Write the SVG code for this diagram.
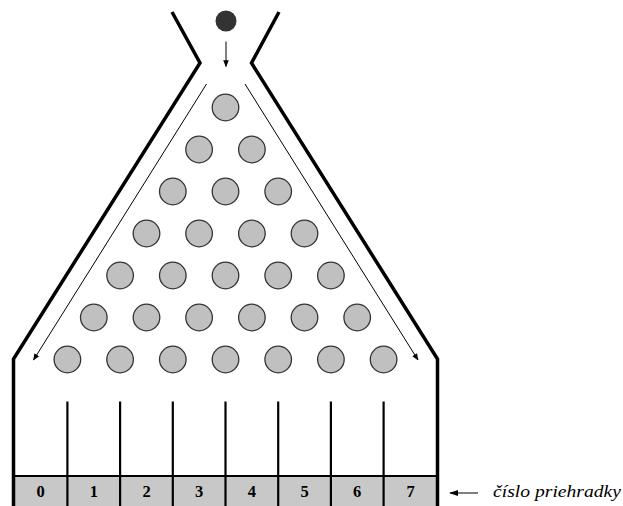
<svg xmlns="http://www.w3.org/2000/svg" width="623" height="506" viewBox="0 0 623 506">
<defs>
<marker id="ah" viewBox="0 0 10 10" refX="9" refY="5" markerWidth="7" markerHeight="7" orient="auto" markerUnits="userSpaceOnUse">
<path d="M0,1 L10,5 L0,9 Z" fill="#000"/>
</marker>
<marker id="ah2" viewBox="0 0 10 10" refX="9" refY="5" markerWidth="9" markerHeight="9" orient="auto" markerUnits="userSpaceOnUse">
<path d="M0,1.5 L10,5 L0,8.5 Z" fill="#000"/>
</marker>
<style>
.peg{fill:#c0c0c0;stroke:#333;stroke-width:1.3}
.wall{fill:none;stroke:#000;stroke-width:3.5;stroke-linejoin:miter}
.div{stroke:#000;stroke-width:2.2}
.thin{stroke:#000;stroke-width:1;fill:none}
.num{font-weight:bold;font-size:16.5px;text-anchor:middle}
.lab{font-style:italic;font-size:17px}
</style>
</defs>
<rect width="623" height="506" fill="#fff"/>
<g id="bins-fill">
<rect x="13.5" y="476" width="424" height="30" fill="#c8c8c8"/>
</g>
<g id="funnel">
<path class="wall" d="M172,12 L200,63 L13.5,359 L13.5,506"/>
<path class="wall" d="M279,12 L251.5,63 L437.5,359 L437.5,506"/>
</g>
<g id="ball">
<circle cx="226" cy="21" r="10.5" fill="#333"/>
</g>
<g id="pegs">
<circle class="peg" cx="225.5" cy="107.5" r="13.3"/>
<circle class="peg" cx="199.1" cy="149.5" r="13.3"/>
<circle class="peg" cx="251.9" cy="149.5" r="13.3"/>
<circle class="peg" cx="172.8" cy="191.5" r="13.3"/>
<circle class="peg" cx="225.5" cy="191.5" r="13.3"/>
<circle class="peg" cx="278.2" cy="191.5" r="13.3"/>
<circle class="peg" cx="146.5" cy="233.5" r="13.3"/>
<circle class="peg" cx="199.1" cy="233.5" r="13.3"/>
<circle class="peg" cx="251.9" cy="233.5" r="13.3"/>
<circle class="peg" cx="304.5" cy="233.5" r="13.3"/>
<circle class="peg" cx="120.1" cy="275.5" r="13.3"/>
<circle class="peg" cx="172.8" cy="275.5" r="13.3"/>
<circle class="peg" cx="225.5" cy="275.5" r="13.3"/>
<circle class="peg" cx="278.2" cy="275.5" r="13.3"/>
<circle class="peg" cx="330.9" cy="275.5" r="13.3"/>
<circle class="peg" cx="93.8" cy="317.5" r="13.3"/>
<circle class="peg" cx="146.5" cy="317.5" r="13.3"/>
<circle class="peg" cx="199.1" cy="317.5" r="13.3"/>
<circle class="peg" cx="251.9" cy="317.5" r="13.3"/>
<circle class="peg" cx="304.5" cy="317.5" r="13.3"/>
<circle class="peg" cx="357.2" cy="317.5" r="13.3"/>
<circle class="peg" cx="67.4" cy="359.5" r="13.3"/>
<circle class="peg" cx="120.1" cy="359.5" r="13.3"/>
<circle class="peg" cx="172.8" cy="359.5" r="13.3"/>
<circle class="peg" cx="225.5" cy="359.5" r="13.3"/>
<circle class="peg" cx="278.2" cy="359.5" r="13.3"/>
<circle class="peg" cx="330.9" cy="359.5" r="13.3"/>
<circle class="peg" cx="383.6" cy="359.5" r="13.3"/>
</g>
<g id="connectors">
<line class="thin" x1="226" y1="41.5" x2="226" y2="66.5" stroke="#222" marker-end="url(#ah)"/>
<line class="thin" x1="206.5" y1="84" x2="33.5" y2="360" marker-end="url(#ah)"/>
<line class="thin" x1="245" y1="84" x2="418" y2="360" marker-end="url(#ah)"/>
<line class="thin" x1="478" y1="493" x2="450" y2="493" stroke-width="1.4" marker-end="url(#ah2)"/>
</g>
<g id="bins" font-family="Liberation Serif, DejaVu Serif, serif">
<line class="div" x1="13.5" y1="476" x2="437.5" y2="476"/>
<line class="div" x1="67.4" y1="401.5" x2="67.4" y2="506"/>
<line class="div" x1="120.1" y1="401.5" x2="120.1" y2="506"/>
<line class="div" x1="172.8" y1="401.5" x2="172.8" y2="506"/>
<line class="div" x1="225.5" y1="401.5" x2="225.5" y2="506"/>
<line class="div" x1="278.2" y1="401.5" x2="278.2" y2="506"/>
<line class="div" x1="330.9" y1="401.5" x2="330.9" y2="506"/>
<line class="div" x1="383.6" y1="401.5" x2="383.6" y2="506"/>
<text class="num" x="40.5" y="497">0</text>
<text class="num" x="93.8" y="497">1</text>
<text class="num" x="146.5" y="497">2</text>
<text class="num" x="199.1" y="497">3</text>
<text class="num" x="251.9" y="497">4</text>
<text class="num" x="304.5" y="497">5</text>
<text class="num" x="357.2" y="497">6</text>
<text class="num" x="410.5" y="497">7</text>
</g>
<g id="label" font-family="Liberation Serif, DejaVu Serif, serif">
<text class="lab" x="493" y="497" textLength="128" lengthAdjust="spacingAndGlyphs">číslo priehradky</text>
</g>
</svg>
